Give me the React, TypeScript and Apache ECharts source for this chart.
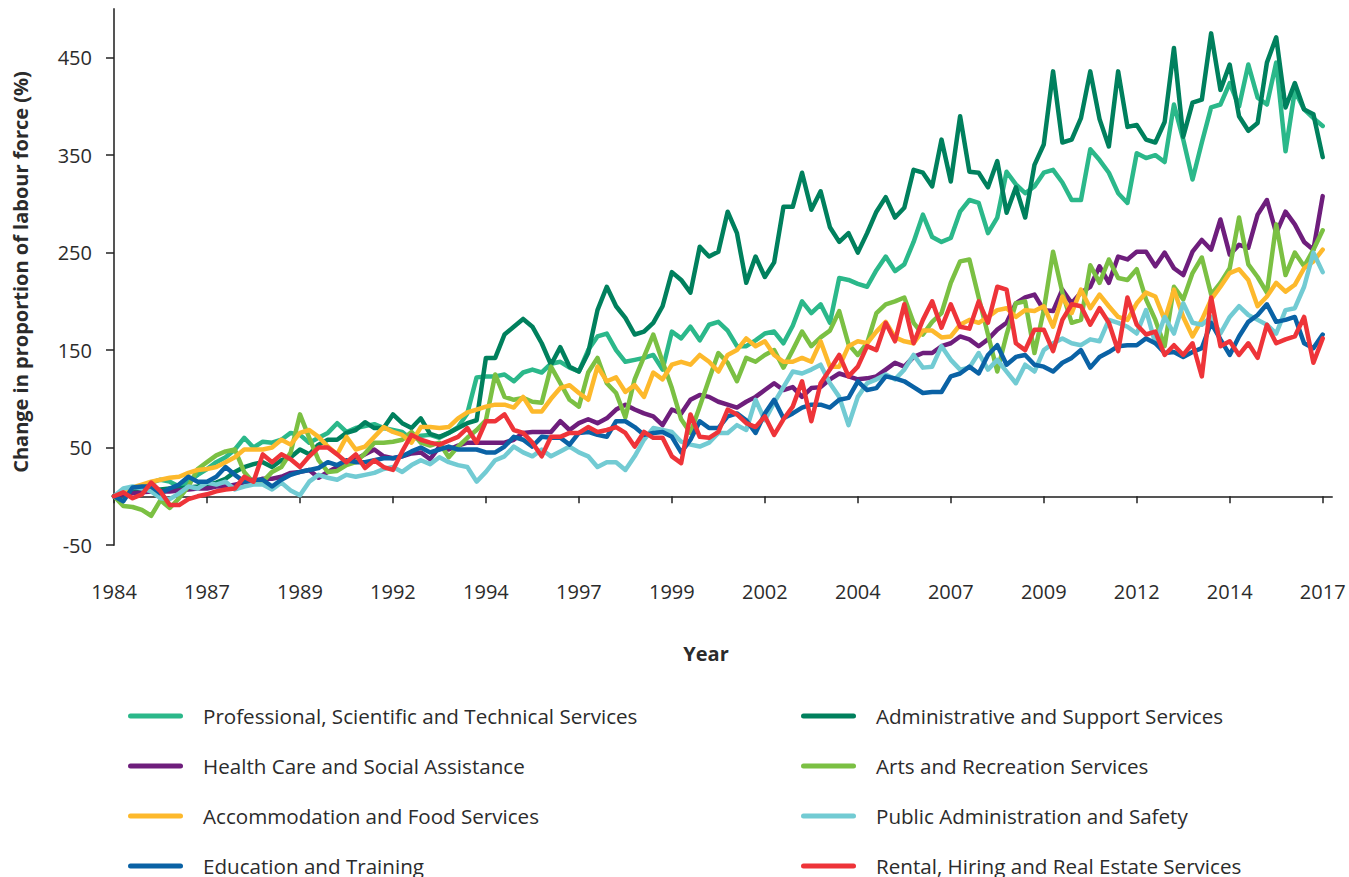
import React, { useEffect, useRef } from "react";
import * as echarts from "echarts";

const xTickLabels = ["1984", "1987", "1989", "1992", "1994", "1997", "1999", "2002", "2004", "2007", "2009", "2012", "2014", "2017"];
const xTickPositions = [0, 10, 20, 30, 40, 50, 60, 70, 80, 90, 100, 110, 120, 130];
const yTicks = [-50, 50, 150, 250, 350, 450];

const professional = [
  0, 5, 8, 10, 14, 17, 15, 10, 15, 22,
  28, 35, 40, 48, 60, 50, 56, 55, 58, 65,
  63, 55, 60, 65, 75, 66, 70, 72, 74, 70,
  68, 66, 58, 62, 63, 60, 65, 71, 85, 122,
  123, 123, 125, 118, 127, 130, 127, 136, 138, 132,
  128, 150, 164, 167, 150, 138, 140, 142, 145, 130,
  169, 162, 174, 160, 176, 179, 170, 154, 154, 160,
  167, 169, 157, 175, 200, 188, 197, 178, 224, 222,
  218, 215, 232, 246, 231, 238, 261, 289, 266, 261,
  265, 292, 304, 301, 270, 286, 333, 320, 311, 318,
  332, 335, 322, 304, 304, 356, 345, 332, 311, 301,
  352, 347, 350, 343, 402, 366, 325, 363, 399, 402,
  424, 400, 443, 409, 402, 445, 354, 416, 397, 388,
  380,
];
const administrative = [
  0, 2, 4, 5, 6, 7, 8, 8, 9, 10,
  12, 14, 18, 25, 30, 33, 35, 30, 37, 40,
  48, 43, 53, 58, 58, 65, 68, 76, 70, 70,
  84, 75, 70, 80, 64, 61, 65, 70, 75, 78,
  142, 142, 166, 174, 182, 174, 157, 135, 153, 133,
  128, 147, 191, 215, 195, 183, 166, 169, 178, 195,
  230, 222, 209, 256, 246, 251, 292, 270, 219, 246,
  225, 240, 297, 297, 332, 294, 313, 276, 261, 270,
  250, 270, 292, 307, 286, 296, 335, 332, 318, 366,
  323, 390, 333, 332, 317, 344, 291, 317, 286, 340,
  361, 436, 363, 366, 388, 436, 387, 359, 436, 379,
  381, 366, 363, 384, 460, 369, 404, 407, 475, 417,
  443, 390, 375, 383, 445, 471, 399, 424, 397, 392,
  348,
];
const healthCare = [
  0, 2, 3, 4, 5, 5, 5, 6, 7, 8,
  8, 10, 10, 12, 14, 15, 18, 18, 20, 24,
  25, 27, 19, 25, 30, 35, 38, 43, 48, 41,
  39, 41, 44, 45, 38, 51, 48, 52, 55, 55,
  55, 55, 55, 58, 65, 66, 66, 66, 77, 68,
  75, 79, 75, 80, 89, 94, 89, 85, 82, 73,
  89, 85, 99, 104, 102, 97, 94, 91, 97, 102,
  109, 116, 109, 112, 102, 111, 112, 120, 126, 123,
  120, 121, 123, 130, 137, 133, 143, 147, 147, 154,
  157, 164, 161, 154, 161, 171, 178, 198, 204, 207,
  191, 190, 212, 198, 209, 215, 236, 219, 246, 243,
  251, 251, 236, 250, 234, 227, 251, 263, 253, 284,
  248, 258, 255, 289, 304, 270, 292, 279, 261, 253,
  308,
];
const artsRecreation = [
  0, -10, -11, -14, -20, -4, -12, -2, 10, 28,
  35, 42, 46, 48, 25, 14, 15, 25, 30, 45,
  84, 60, 37, 25, 26, 32, 35, 44, 55, 55,
  56, 58, 66, 55, 52, 55, 40, 51, 60, 68,
  78, 125, 102, 99, 101, 97, 96, 133, 116, 99,
  92, 127, 142, 116, 106, 81, 120, 143, 166, 138,
  111, 79, 65, 92, 120, 147, 137, 118, 142, 138,
  145, 150, 132, 150, 169, 154, 163, 170, 190, 156,
  145, 157, 188, 197, 200, 204, 178, 166, 179, 188,
  219, 241, 243, 204, 166, 128, 166, 198, 200, 147,
  191, 251, 209, 178, 181, 237, 219, 243, 224, 222,
  233, 202, 181, 154, 215, 202, 229, 245, 207, 219,
  234, 286, 238, 225, 209, 279, 227, 250, 236, 253,
  273,
];
const accommodation = [
  0, 5, 9, 12, 15, 17, 19, 20, 24, 27,
  28, 30, 35, 40, 48, 48, 48, 50, 58, 53,
  65, 68, 61, 51, 43, 61, 48, 51, 61, 71,
  66, 63, 55, 71, 71, 70, 71, 80, 86, 89,
  92, 94, 94, 91, 102, 87, 87, 100, 111, 114,
  106, 99, 133, 118, 122, 107, 114, 102, 127, 120,
  135, 138, 135, 145, 138, 128, 145, 150, 162, 154,
  159, 145, 138, 138, 142, 138, 159, 133, 133, 154,
  159, 157, 169, 179, 163, 159, 157, 170, 170, 163,
  164, 176, 181, 178, 184, 191, 193, 184, 191, 190,
  195, 174, 205, 188, 212, 193, 207, 195, 184, 181,
  198, 209, 205, 181, 212, 184, 164, 181, 202, 215,
  229, 233, 222, 195, 205, 219, 210, 217, 234, 241,
  253,
];
const publicAdmin = [
  0, 8, 10, 8, 5, -2, -3, 3, 10, 8,
  14, 12, 15, 7, 10, 12, 12, 7, 14, 6,
  1, 15, 22, 19, 17, 22, 20, 22, 24, 28,
  30, 25, 32, 37, 33, 40, 35, 32, 30, 15,
  25, 37, 41, 51, 45, 41, 48, 41, 46, 51,
  45, 41, 30, 35, 35, 27, 41, 58, 70, 68,
  66, 56, 53, 51, 55, 65, 65, 73, 68, 99,
  78, 96, 112, 128, 126, 130, 135, 116, 102, 73,
  102, 116, 120, 125, 120, 130, 145, 132, 133, 154,
  140, 130, 132, 147, 130, 140, 128, 116, 135, 128,
  150, 157, 162, 157, 155, 161, 159, 181, 178, 174,
  167, 191, 157, 184, 167, 198, 178, 176, 184, 167,
  184, 195, 186, 181, 176, 167, 191, 193, 215, 250,
  230,
];
const education = [
  0, -5, 9, 10, 10, 3, 8, 12, 20, 15,
  15, 20, 30, 22, 15, 17, 17, 10, 17, 22,
  25, 27, 29, 35, 32, 37, 35, 35, 37, 39,
  39, 41, 46, 50, 45, 48, 51, 48, 48, 48,
  45, 45, 51, 61, 58, 51, 61, 60, 60, 53,
  65, 66, 63, 61, 77, 77, 71, 63, 65, 66,
  61, 45, 58, 77, 70, 70, 82, 85, 78, 65,
  85, 99, 80, 85, 91, 94, 94, 91, 99, 101,
  118, 109, 111, 123, 121, 118, 112, 106, 107, 107,
  123, 126, 133, 126, 145, 155, 135, 143, 145, 135,
  133, 128, 137, 142, 150, 132, 143, 148, 154, 155,
  155, 162, 157, 147, 148, 143, 148, 152, 178, 161,
  145, 164, 179, 186, 197, 179, 181, 184, 157, 152,
  166,
];
const rental = [
  0, 4, -2, 2, 14, 5, -9, -9, -3, 0,
  2, 5, 7, 8, 20, 15, 43, 35, 43, 38,
  30, 41, 50, 50, 43, 35, 43, 29, 37, 30,
  27, 46, 63, 58, 55, 53, 57, 61, 70, 55,
  77, 77, 84, 68, 65, 55, 41, 61, 61, 65,
  65, 71, 66, 68, 71, 65, 51, 66, 60, 60,
  41, 34, 84, 61, 60, 66, 89, 84, 75, 71,
  82, 63, 79, 92, 118, 77, 116, 130, 145, 123,
  133, 154, 150, 178, 159, 197, 157, 181, 200, 173,
  197, 174, 172, 200, 178, 215, 212, 157, 150, 171,
  171, 149, 181, 197, 195, 176, 193, 178, 149, 204,
  176, 166, 169, 145, 155, 145, 157, 123, 204, 154,
  159, 145, 157, 142, 176, 157, 161, 164, 184, 137,
  162,
];

const seriesDefs = [
  { name: "Professional, Scientific and Technical Services", color: "#2bb88a", data: professional },
  { name: "Administrative and Support Services", color: "#00805d", data: administrative },
  { name: "Health Care and Social Assistance", color: "#6e1e7c", data: healthCare },
  { name: "Arts and Recreation Services", color: "#7bc043", data: artsRecreation },
  { name: "Accommodation and Food Services", color: "#fdb92c", data: accommodation },
  { name: "Public Administration and Safety", color: "#72cbd3", data: publicAdmin },
  { name: "Education and Training", color: "#0a62a5", data: education },
  { name: "Rental, Hiring and Real Estate Services", color: "#ee3439", data: rental },
];

const FONT = "'Open Sans', 'Noto Sans', sans-serif";
const TEXT = "#2b2b2b";
const AXIS = "#555555";
const legendIcon = "path://M2.5,0 L52.5,0 A2.5,2.5 0 0 1 52.5,5 L2.5,5 A2.5,2.5 0 0 1 2.5,0 Z";

export default function App() {
  const ref = useRef<HTMLDivElement>(null);
  useEffect(() => {
    if (!ref.current) return;
    const chart = echarts.init(ref.current, null, { renderer: "svg" });
    const legendCommon = {
      orient: "vertical",
      top: 705,
      height: 220,
      padding: 0,
      itemWidth: 57,
      itemHeight: 5,
      itemGap: 28,
      icon: legendIcon,
      selectedMode: false,
      textStyle: { fontFamily: FONT, fontSize: 20.6, color: TEXT, lineHeight: 22, padding: [0, 0, 0, 14] },
    };
    chart.setOption({
      animation: false,
      backgroundColor: "#ffffff",
      textStyle: { fontFamily: FONT },
      grid: { left: 114, right: 17, top: 9, bottom: 332, containLabel: false },
      xAxis: {
        type: "value",
        min: 0,
        max: 131,
        axisLine: { show: true, onZero: true, lineStyle: { color: AXIS, width: 2 } },
        axisTick: { show: true, length: 7, customValues: xTickPositions, lineStyle: { color: "#222", width: 1.5 } },
        axisLabel: {
          show: true,
          customValues: xTickPositions,
          margin: 36,
          fontFamily: FONT,
          fontSize: 20,
          color: TEXT,
          formatter: (v: number) => xTickLabels[xTickPositions.indexOf(Math.round(v))] ?? "",
        },
        splitLine: { show: false },
      },
      yAxis: {
        type: "value",
        min: -50,
        max: 500,
        axisLine: { show: true, onZero: false, lineStyle: { color: AXIS, width: 2 } },
        axisTick: { show: true, length: 8, customValues: yTicks, lineStyle: { color: "#222", width: 1.5 } },
        axisLabel: { show: true, customValues: yTicks, margin: 22, fontFamily: FONT, fontSize: 20, color: TEXT },
        splitLine: { show: false },
      },
      legend: [
        { ...legendCommon, left: 128, data: [seriesDefs[0].name, seriesDefs[2].name, seriesDefs[4].name, seriesDefs[6].name] },
        { ...legendCommon, left: 801, data: [seriesDefs[1].name, seriesDefs[3].name, seriesDefs[5].name, seriesDefs[7].name] },
      ],
      graphic: [
        {
          type: "text",
          x: 20,
          y: 272,
          rotation: Math.PI / 2,
          style: {
            text: "Change in proportion of labour force (%)",
            fontFamily: FONT,
            fontSize: 20,
            fontWeight: "bold",
            fill: TEXT,
            textAlign: "center",
            textVerticalAlign: "middle",
          },
        },
        {
          type: "text",
          x: 706,
          y: 653,
          style: {
            text: "Year",
            fontFamily: FONT,
            fontSize: 20,
            fontWeight: "bold",
            fill: TEXT,
            textAlign: "center",
            textVerticalAlign: "middle",
          },
        },
      ],
      series: seriesDefs.map((s) => ({
        name: s.name,
        type: "line",
        data: s.data.map((v, i) => [i, v]),
        showSymbol: false,
        symbol: "none",
        color: s.color,
        lineStyle: { color: s.color, width: 4.5, join: "round", cap: "round" },
        itemStyle: { color: s.color },
        emphasis: { disabled: true },
      })),
    });
    return () => chart.dispose();
  }, []);
  return (
    <div
      ref={ref}
      style={{ position: "fixed", left: 0, top: 0, width: 1349, height: 877, background: "#fff" }}
    />
  );
}
